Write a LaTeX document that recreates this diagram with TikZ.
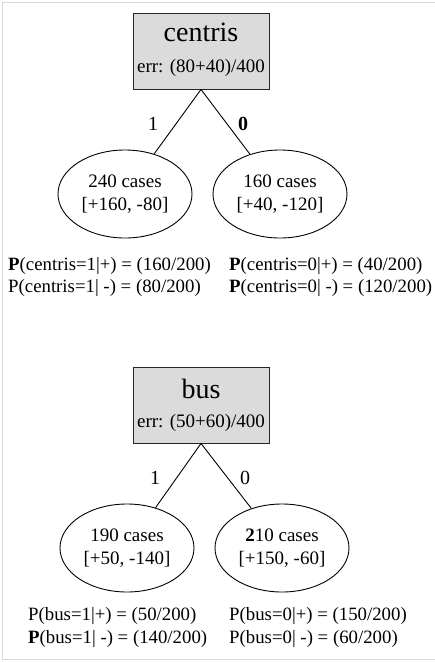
\documentclass[tikz,border=0pt]{standalone}
\usepackage{fontspec}
\setmainfont{Liberation Serif}
\usetikzlibrary{shapes.geometric}
\begin{document}
\begin{tikzpicture}[x=1pt,y=-1pt,
  splitbox/.style={draw=black!85, fill=gray!28, minimum width=136pt, minimum height=76pt, inner sep=0pt, line width=0.9pt},
  titletxt/.style={font=\fontsize{28}{30}\selectfont, inner sep=0pt},
  errtxt/.style={font=\fontsize{19}{22}\selectfont, inner sep=0pt},
  leaf/.style={draw, ellipse, minimum width=134pt, minimum height=88pt, inner sep=0pt, align=center, font=\fontsize{19}{23}\selectfont, line width=0.9pt},
  branchlbl/.style={font=\fontsize{20}{22}\selectfont, inner sep=0pt},
  prob/.style={font=\fontsize{18.8}{22.5}\selectfont, align=left, anchor=west, inner sep=0pt},
  edgeline/.style={line width=0.9pt}
]
\useasboundingbox (0,0) rectangle (435,662);
\draw[gray!30, line width=1.5pt] (435,2.5) -- (2.5,2.5) -- (2.5,659.5) -- (435,659.5);

% centris tree
\node[splitbox] (c) at (201,51) {};
\node[titletxt] (ct) at (201,32) {centris};
\node[errtxt] (ce) at (201,68) {err: (80+40)/400};
\node[leaf] (c1) at (125,194) {240 cases\\{[+160, -80]}};
\node[leaf] (c0) at (280,194) {160 cases\\{[+40, -120]}};
\draw[edgeline] (c.south) -- (c1);
\draw[edgeline] (c.south) -- (c0);
\node[branchlbl] (cl1) at (153,124) {1};
\node[branchlbl] (cl0) at (243,124) {\textbf{0}};
\node[prob] (pc1) at (8,277) {\textbf{P}(centris=1|+) = (160/200)\\P(centris=1| -) = (80/200)};
\node[prob] (pc0) at (229,277) {\textbf{P}(centris=0|+) = (40/200)\\\textbf{P}(centris=0| -) = (120/200)};

% bus tree
\node[splitbox] (b) at (201,405) {};
\node[titletxt] (bt) at (201,389) {bus};
\node[errtxt] (be) at (201,423) {err: (50+60)/400};
\node[leaf] (b1) at (127,548) {190 cases\\{[+50, -140]}};
\node[leaf] (b0) at (282,548) {\textbf{2}10 cases\\{[+150, -60]}};
\draw[edgeline] (b.south) -- (b1);
\draw[edgeline] (b.south) -- (b0);
\node[branchlbl] (bl1) at (155,478) {1};
\node[branchlbl] (bl0) at (245,478) {0};
\node[prob] (pb1) at (28,627.5) {P(bus=1|+) = (50/200)\\\textbf{P}(bus=1| -) = (140/200)};
\node[prob] (pb0) at (229,627.5) {P(bus=0|+) = (150/200)\\P(bus=0| -) = (60/200)};
\end{tikzpicture}
\end{document}
